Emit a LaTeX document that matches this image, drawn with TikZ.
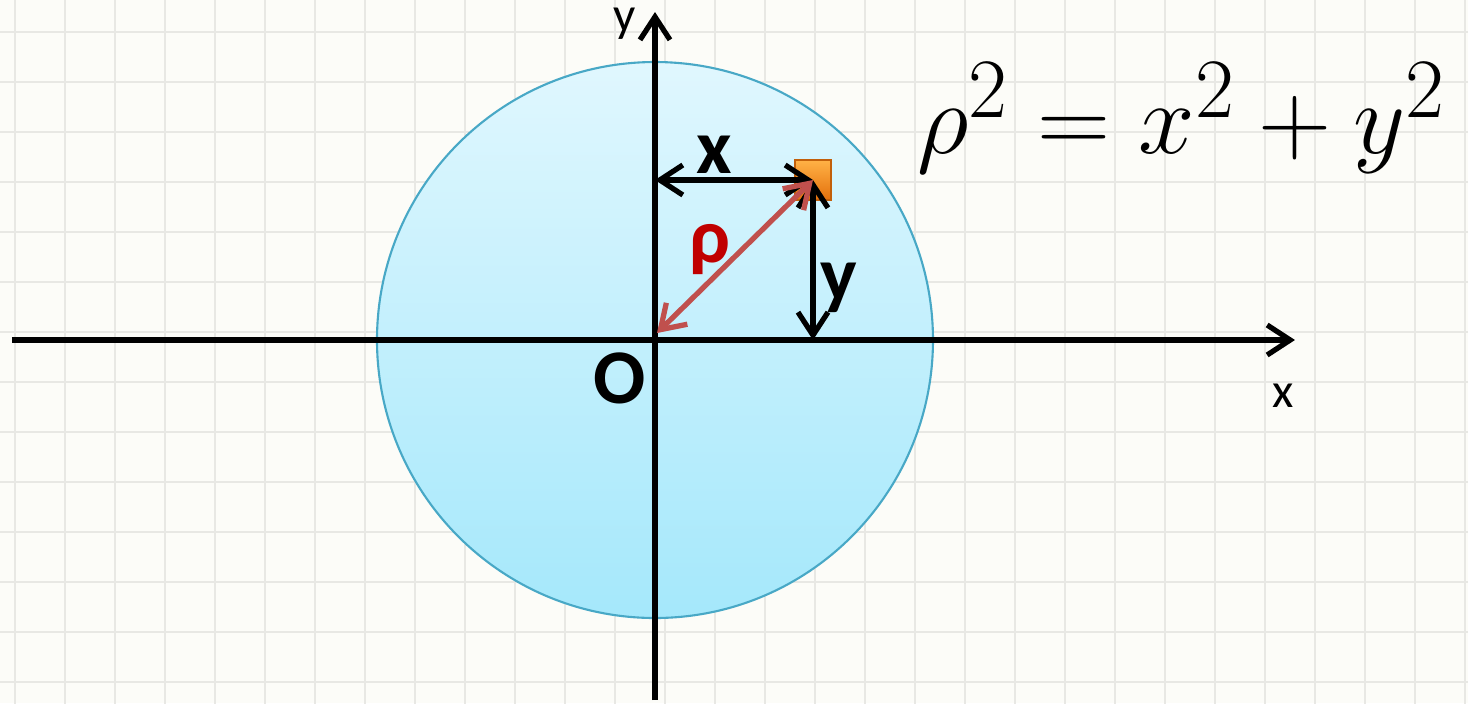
\documentclass[tikz,border=0pt]{standalone}
\usepackage{amsmath}
\usepackage{fontspec}
\newfontfamily\calib{Carlito}
\usepackage{tikz}
\usetikzlibrary{arrows.meta,positioning,shapes.geometric,calc,fit}

\definecolor{paper}{RGB}{252,252,248}
\definecolor{gridline}{RGB}{232,232,228}
\definecolor{disctop}{RGB}{224,247,254}
\definecolor{discbot}{RGB}{165,232,251}
\definecolor{discrim}{RGB}{72,168,198}
\definecolor{rhoarrow}{RGB}{192,80,77}
\definecolor{rhotext}{RGB}{192,0,0}
\definecolor{boxlight}{RGB}{255,178,70}
\definecolor{boxdark}{RGB}{228,112,12}

\begin{document}
\begin{tikzpicture}[axis/.style={line width=1.5pt, -{Straight Barb[length=2.3mm,width=3mm]}},
    twoway/.style={line width=1.5pt, {Straight Barb[length=2.3mm,width=3mm]}-{Straight Barb[length=2.3mm,width=3mm]}},
    axlabel/.style={font=\calib\fontsize{14}{16}\selectfont},
    biglabel/.style={font=\calib\bfseries\fontsize{22}{26}\selectfont},
    point/.style={rectangle, minimum width=0.36cm, minimum height=0.4cm, inner sep=0pt,
      draw=boxdark!85!black, line width=0.3pt, top color=boxlight, bottom color=boxdark}]
    \useasboundingbox (-6.55,-3.63) rectangle (8.13,3.40);
    \fill[paper] (-6.55,-3.63) rectangle (8.13,3.40);
    \begin{scope}
      \clip (-6.55,-3.63) rectangle (8.13,3.40);
      \draw[gridline, line width=0.6pt, shift={(0.1,0.08)}, step=0.5] (-7,-4) grid (8.5,3.5);
    \end{scope}

    \coordinate (O) at (0,0);
    \shade[top color=disctop, bottom color=discbot] (O) circle (2.78);
    \draw[discrim, line width=0.6pt] (O) circle (2.78);

    \coordinate (xmin) at (-6.43,0);
    \coordinate (xmax) at (6.4,0);
    \coordinate (ymin) at (0,-3.6);
    \coordinate (ymax) at (0,3.28);
    \draw[axis] (xmin) -- (xmax);
    \draw[axis] (ymin) -- (ymax);
    \node[axlabel] (ylab) at (-0.3,3.16) {y};
    \node[axlabel] (xlab) at (6.28,-0.56) {x};
    \node[biglabel] (olab) at (-0.35,-0.38) {O};

    \node[point] (P) at (1.58,1.6) {};
    \coordinate (Px) at (0,1.6);
    \coordinate (Py) at (1.58,0);
    \draw[twoway] (Px) -- (P.center);
    \draw[twoway] (P.center) -- (Py);
    \draw[twoway, rhoarrow] (0.02,0.07) -- (P.center);
    \node[biglabel] (xtxt) at (0.59,1.85) {x};
    \node[biglabel] (ytxt) at (1.84,0.52) {y};
    \node[biglabel, text=rhotext] (rhotxt) at (0.55,0.9) {ρ};

    \node[font=\fontsize{24.88}{30}\selectfont, scale=1.16] (law) at (5.27,2.22) {$\rho^2 = x^2 + y^2$};
  \end{tikzpicture}
\end{document}
